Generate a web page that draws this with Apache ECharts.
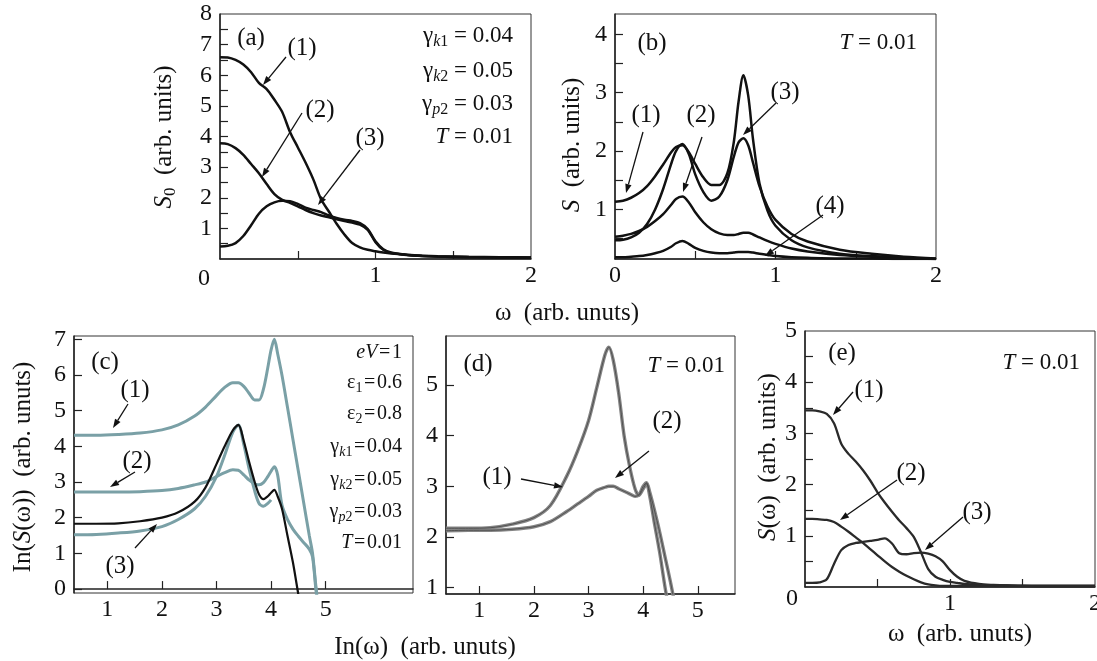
<!DOCTYPE html>
<html>
<head>
<meta charset="utf-8">
<title>S(ω) panels</title>
<script src="https://cdn.jsdelivr.net/npm/echarts@6/dist/echarts.min.js"></script>
<style>
html, body { margin: 0; padding: 0; background: #fff; }
#chart { width: 1097px; height: 661px; }
</style>
</head>
<body>
<div id="chart"></div>
<script>
// ---- (a) S0(ω) ----
var wA = [0, 0.05, 0.1, 0.15, 0.2, 0.25, 0.3, 0.35, 0.4, 0.45, 0.5, 0.55, 0.6, 0.65, 0.7, 0.75, 0.8, 0.85, 0.9, 0.95, 1.0, 1.05, 1.1, 1.2, 1.3, 1.4, 1.6, 1.8, 2.0]
var a1 = [6.59, 6.58, 6.5, 6.35, 6.1, 5.75, 5.55, 5.2, 4.8, 4.15, 3.65, 3.15, 2.6, 1.95, 1.55, 1.15, 0.8, 0.52, 0.38, 0.3, 0.25, 0.21, 0.18, 0.14, 0.11, 0.09, 0.07, 0.06, 0.05]
var a2 = [3.78, 3.75, 3.62, 3.4, 3.1, 2.8, 2.45, 2.12, 1.93, 1.83, 1.72, 1.6, 1.5, 1.42, 1.36, 1.3, 1.24, 1.19, 1.12, 0.95, 0.55, 0.3, 0.2, 0.13, 0.1, 0.08, 0.06, 0.05, 0.04]
var a3 = [0.41, 0.43, 0.52, 0.75, 1.1, 1.48, 1.72, 1.85, 1.9, 1.89, 1.8, 1.68, 1.6, 1.53, 1.42, 1.34, 1.28, 1.24, 1.17, 0.98, 0.58, 0.32, 0.21, 0.14, 0.1, 0.08, 0.06, 0.05, 0.04]

// ---- (b) S(ω) ----
var wB = [0, 0.05, 0.1, 0.15, 0.2, 0.25, 0.3, 0.35, 0.38, 0.42, 0.46, 0.5, 0.55, 0.6, 0.65, 0.7, 0.74, 0.77, 0.8, 0.83, 0.86, 0.9, 0.95, 1.0, 1.1, 1.2, 1.4, 1.6, 1.8, 2.0]
var b1 = [1.13, 1.15, 1.2, 1.28, 1.4, 1.57, 1.77, 1.98, 2.07, 2.1, 1.98, 1.78, 1.55, 1.42, 1.42, 1.62, 2.15, 2.85, 3.3, 2.95, 2.2, 1.45, 0.98, 0.72, 0.47, 0.35, 0.24, 0.2, 0.17, 0.15]
var b2 = [0.53, 0.55, 0.58, 0.63, 0.7, 0.8, 0.92, 1.08, 1.18, 1.22, 1.12, 0.95, 0.78, 0.66, 0.59, 0.56, 0.56, 0.58, 0.6, 0.6, 0.57, 0.52, 0.46, 0.41, 0.33, 0.28, 0.22, 0.19, 0.17, 0.15]
var b3 = [0.47, 0.48, 0.52, 0.6, 0.75, 1.0, 1.35, 1.78, 2.0, 2.12, 1.95, 1.6, 1.3, 1.15, 1.22, 1.5, 1.9, 2.15, 2.22, 2.1, 1.8, 1.4, 1.05, 0.82, 0.58, 0.45, 0.31, 0.24, 0.19, 0.16]
var b4 = [0.18, 0.18, 0.19, 0.2, 0.22, 0.25, 0.29, 0.36, 0.42, 0.46, 0.41, 0.34, 0.29, 0.26, 0.25, 0.25, 0.26, 0.27, 0.27, 0.27, 0.26, 0.24, 0.22, 0.2, 0.18, 0.17, 0.16, 0.16, 0.15, 0.15]

// ---- (c) ln S(ω) vs ln ω ----
var wC = [0.39, 0.8, 1.2, 1.6, 2.0, 2.3, 2.6, 2.8, 3.0, 3.15, 3.3, 3.4, 3.5, 3.6, 3.7, 3.78, 3.86, 3.94, 4.0, 4.06, 4.12, 4.2, 4.3, 4.4, 4.5, 4.6, 4.7, 4.76, 4.82, 4.88]
var c1 = [4.31, 4.31, 4.33, 4.37, 4.46, 4.6, 4.85, 5.1, 5.42, 5.65, 5.78, 5.78, 5.68, 5.48, 5.3, 5.3, 5.6, 6.2, 6.7, 7.0, 6.6, 5.99, 5.1, 4.2, 3.3, 2.4, 1.5, 1.0, 0.1, -0.7]
var c2 = [2.72, 2.72, 2.72, 2.73, 2.76, 2.82, 2.92, 3.0, 3.15, 3.26, 3.34, 3.33, 3.2, 3.05, 2.95, 2.92, 2.98, 3.15, 3.3, 3.43, 3.2, 2.35, 1.95, 1.68, 1.48, 1.3, 1.12, 0.9, 0.0, -0.8]
var c3 = [1.83, 1.83, 1.84, 1.9, 2.0, 2.15, 2.45, 2.85, 3.5, 4.0, 4.45, 4.6, 4.15, 3.55, 3.0, 2.65, 2.52, 2.6, 2.7, 2.78, 2.6, 2.25, 1.5, 0.75, -0.15, -1.0, -1.8, -2.2, -2.6, -3.0]
var c3fit = [1.52, 1.53, 1.57, 1.63, 1.75, 1.95, 2.25, 2.6, 3.15, 3.75, 4.4, 4.6, 4.05, 3.35, 2.75, 2.4, 2.32, 2.4, 2.5]

// ---- (d) ----
var wD = [0.39, 0.8, 1.2, 1.6, 2.0, 2.3, 2.6, 2.8, 3.0, 3.15, 3.3, 3.37, 3.45, 3.55, 3.65, 3.75, 3.85, 3.92, 4.0, 4.06, 4.12, 4.2, 4.3, 4.4, 4.5, 4.6]
var d1 = [2.17, 2.17, 2.18, 2.25, 2.38, 2.62, 3.2, 3.7, 4.3, 4.95, 5.6, 5.75, 5.5, 4.85, 4.0, 3.4, 2.95, 2.82, 2.95, 3.05, 2.8, 2.3, 1.7, 1.0, 0.4, -0.2]
var d2 = [2.12, 2.13, 2.13, 2.15, 2.2, 2.3, 2.5, 2.65, 2.8, 2.92, 2.98, 3.0, 3.0, 2.95, 2.9, 2.85, 2.8, 2.83, 3.0, 3.07, 2.88, 2.55, 2.1, 1.6, 1.1, 0.55]

// ---- (e) ----
var wE = [0, 0.05, 0.1, 0.15, 0.2, 0.25, 0.3, 0.35, 0.4, 0.45, 0.5, 0.55, 0.6, 0.65, 0.7, 0.75, 0.8, 0.85, 0.9, 0.95, 1.0, 1.05, 1.1, 1.2, 1.3, 1.4, 1.6, 1.8, 2.0]
var e1 = [3.45, 3.45, 3.43, 3.38, 3.2, 2.8, 2.6, 2.45, 2.28, 2.08, 1.85, 1.65, 1.47, 1.3, 1.15, 0.98, 0.68, 0.35, 0.2, 0.14, 0.1, 0.08, 0.06, 0.04, 0.03, 0.03, 0.02, 0.02, 0.02]
var e2 = [1.33, 1.33, 1.32, 1.31, 1.27, 1.18, 1.08, 0.97, 0.86, 0.74, 0.62, 0.5, 0.39, 0.3, 0.22, 0.15, 0.09, 0.05, 0.03, 0.02, 0.02, 0.02, 0.02, 0.02, 0.02, 0.02, 0.02, 0.02, 0.02]
var e3 = [0.08, 0.08, 0.09, 0.15, 0.45, 0.72, 0.82, 0.86, 0.88, 0.9, 0.92, 0.95, 0.85, 0.66, 0.64, 0.66, 0.67, 0.65, 0.6, 0.5, 0.33, 0.2, 0.12, 0.06, 0.04, 0.03, 0.02, 0.02, 0.02]

// tick / label positions
var halfTo8 = [0.5, 1, 1.5, 2, 2.5, 3, 3.5, 4, 4.5, 5, 5.5, 6, 6.5, 7, 7.5]
var halfTo4 = [0.5, 1, 1.5, 2, 2.5, 3, 3.5, 4]
var halfTo5 = [0.5, 1, 1.5, 2, 2.5, 3, 3.5, 4, 4.5]
var halfW = [0.5, 1, 1.5]

var SERIF = 'Liberation Serif'
var INK = '#111'
var BLUE = '#7aa0a6'

function xAx (g, min, max, labels, ticks) {
  return {
    type: 'value', gridIndex: g, min: min, max: max,
    axisLine: {lineStyle: {color: '#222', width: 1.5}},
    axisTick: {inside: true, length: 8, customValues: ticks, lineStyle: {color: '#222', width: 1.2}},
    axisLabel: {customValues: labels, fontFamily: SERIF, fontSize: 24, color: INK, margin: 5},
    splitLine: {show: false}
  }
}
function yAx (g, min, max, labels, ticks) {
  return {
    type: 'value', gridIndex: g, min: min, max: max,
    axisLine: {lineStyle: {color: '#222', width: 1.5}},
    axisTick: {inside: true, length: 8, customValues: ticks, lineStyle: {color: '#222', width: 1.2}},
    axisLabel: {customValues: labels, fontFamily: SERIF, fontSize: 24, color: INK, margin: 8},
    splitLine: {show: false}
  }
}
function grid (l, t, w, h) {
  return {left: l, top: t, width: w, height: h, show: true, borderColor: '#333', borderWidth: 1, outerBoundsMode: 'none'}
}
function line (g, xs, ys, color, width, z) {
  return {
    type: 'line', xAxisIndex: g, yAxisIndex: g,
    data: ys.map(function (y, i) { return [xs[i], y] }),
    showSymbol: false, symbol: 'none', smooth: 0.3, silent: true, z: z || 2,
    lineStyle: {color: color, width: width}
  }
}

function tok (size, italic, lh, pad) {
  var t = {fontFamily: SERIF, fontSize: size, lineHeight: lh, fill: INK}
  if (italic) t.fontStyle = 'italic'
  if (pad) t.padding = [pad, 0, 0, 0]
  return t
}
var rich = {
  // parameter blocks, 23px
  n: tok(23, false, 27), i: tok(23, true, 27), s: tok(16, false, 16, 11), si: tok(16, true, 16, 11),
  // tighter block in (c), 20px
  m: tok(20, false, 24), mi: tok(20, true, 24), ms: tok(14, false, 14, 10), msi: tok(14, true, 14, 10),
  // labels and titles, 25px
  N: tok(25, false, 30), I: tok(25, true, 30), S: tok(17, false, 17, 13)
}
function txt (x, y, text, align, rot) {
  return {
    type: 'text', x: x, y: y, z: 100, rotation: rot || 0,
    style: {text: text, rich: rich, align: align || 'center', verticalAlign: 'middle', fontFamily: SERIF, fontSize: 25, fill: INK}
  }
}
function arrow (x1, y1, x2, y2) {
  var a = Math.atan2(y2 - y1, x2 - x1), L = 9, W = 3.2
  var bx = x2 - L * Math.cos(a), by = y2 - L * Math.sin(a)
  return [
    {type: 'line', z: 100, shape: {x1: x1, y1: y1, x2: bx, y2: by}, style: {stroke: INK, lineWidth: 1.3}},
    {type: 'polygon', z: 100, shape: {points: [[x2, y2], [bx + W * Math.sin(a), by - W * Math.cos(a)], [bx - W * Math.sin(a), by + W * Math.cos(a)]]}, style: {fill: INK}}
  ]
}

var graphics = [
  // axis titles
  txt(164, 137, '{I|S}{S|0}{N|  (arb. units)}', 'center', Math.PI / 2),
  txt(572, 145, '{I|S}{N|  (arb. units)}', 'center', Math.PI / 2),
  txt(23, 467, '{N|In(}{I|S}{N|(ω))  (arb. unuts)}', 'center', Math.PI / 2),
  txt(768, 457, '{I|S}{N|(ω)  (arb. units)}', 'center', Math.PI / 2),
  txt(567, 313, '{N|ω  (arb. unuts)}'),
  txt(425, 647, '{N|In(ω)  (arb. unuts)}'),
  txt(960, 634, '{N|ω  (arb. unuts)}'),
  // lone zeros at the corners
  {type: 'text', x: 204, y: 279, z: 100, style: {text: '0', fontFamily: SERIF, fontSize: 24, fill: INK, align: 'center', verticalAlign: 'middle'}},
  {type: 'text', x: 792, y: 599, z: 100, style: {text: '0', fontFamily: SERIF, fontSize: 24, fill: INK, align: 'center', verticalAlign: 'middle'}},
  // (a)
  txt(251, 38, '{N|(a)}'),
  txt(302, 48, '{N|(1)}'), txt(320, 110, '{N|(2)}'), txt(370, 138, '{N|(3)}'),
  txt(513, 36, '{n|γ}{si|k}{s|1}{n| = 0.04}', 'right'),
  txt(513, 71, '{n|γ}{si|k}{s|2}{n| = 0.05}', 'right'),
  txt(513, 104, '{n|γ}{si|p}{s|2}{n| = 0.03}', 'right'),
  txt(513, 137, '{i|T}{n| = 0.01}', 'right'),
  // (b)
  txt(652, 43, '{N|(b)}'),
  txt(917, 43, '{i|T}{n| = 0.01}', 'right'),
  txt(646, 115, '{N|(1)}'), txt(701, 115, '{N|(2)}'), txt(785, 92, '{N|(3)}'), txt(830, 206, '{N|(4)}'),
  // (c)
  txt(105, 362, '{N|(c)}'),
  txt(135, 390, '{N|(1)}'), txt(137, 461, '{N|(2)}'), txt(120, 566, '{N|(3)}'),
  txt(402, 353, '{mi|eV}{m|\u200a=\u200a1}', 'right'),
  txt(402, 383, '{m|ε}{ms|1}{m|\u200a=\u200a0.6}', 'right'),
  txt(402, 414, '{m|ε}{ms|2}{m|\u200a=\u200a0.8}', 'right'),
  txt(402, 447, '{m|γ}{msi|k}{ms|1}{m|\u200a=\u200a0.04}', 'right'),
  txt(402, 480, '{m|γ}{msi|k}{ms|2}{m|\u200a=\u200a0.05}', 'right'),
  txt(402, 512, '{m|γ}{msi|p}{ms|2}{m|\u200a=\u200a0.03}', 'right'),
  txt(402, 543, '{mi|T}{m|\u200a=\u200a0.01}', 'right'),
  // (d)
  txt(478, 364, '{N|(d)}'),
  txt(725, 366, '{i|T}{n| = 0.01}', 'right'),
  txt(497, 477, '{N|(1)}'), txt(667, 421, '{N|(2)}'),
  // (e)
  txt(842, 353, '{N|(e)}'),
  txt(1080, 363, '{i|T}{n| = 0.01}', 'right'),
  txt(869, 390, '{N|(1)}'), txt(911, 473, '{N|(2)}'), txt(977, 512, '{N|(3)}')
].concat(
  arrow(286, 57, 263, 85), arrow(302, 113, 262, 177), arrow(360, 150, 318, 205),
  arrow(643, 132, 626, 193), arrow(702, 137, 683, 192), arrow(776, 103, 743, 135), arrow(823, 215, 765, 256),
  arrow(128, 404, 113, 428), arrow(135, 472, 110, 487), arrow(135, 548, 157, 524),
  arrow(521, 479, 563, 487), arrow(649, 451, 615, 478),
  arrow(853, 392, 833, 415), arrow(897, 480, 840, 520), arrow(963, 517, 925, 550)
)

var option = {
  animation: false,
  backgroundColor: '#fff',
  grid: [
    grid(220, 14, 311, 245),
    grid(615, 14, 321, 245),
    grid(74, 336, 339, 257),
    grid(446, 336, 289, 258),
    grid(805, 331, 290, 256)
  ],
  xAxis: [
    xAx(0, 0, 2, [1, 2], halfW),
    xAx(1, 0, 2, [0, 1, 2], halfW),
    xAx(2, 0.39, 6.6, [1, 2, 3, 4, 5], [1, 2, 3, 4, 5]),
    xAx(3, 0.39, 5.68, [1, 2, 3, 4, 5], [1, 2, 3, 4, 5]),
    xAx(4, 0, 2, [1, 2], halfW)
  ],
  yAxis: [
    yAx(0, 0, 8, [1, 2, 3, 4, 5, 6, 7, 8], halfTo8),
    yAx(1, 0.15, 4.35, [1, 2, 3, 4], halfTo4),
    yAx(2, -0.11, 7.09, [0, 1, 2, 3, 4, 5, 6, 7], [0, 1, 2, 3, 4, 5, 6, 7]),
    yAx(3, 0.87, 5.97, [1, 2, 3, 4, 5], [1, 2, 3, 4, 5]),
    yAx(4, 0, 5, [1, 2, 3, 4, 5], halfTo5)
  ],
  series: [
    line(0, wA, a1, INK, 2.5), line(0, wA, a2, INK, 2.5), line(0, wA, a3, INK, 2.5),
    line(1, wB, b1, INK, 2.5), line(1, wB, b2, INK, 2.5), line(1, wB, b3, INK, 2.5), line(1, wB, b4, INK, 2.5),
    line(2, wC, c1, BLUE, 3), line(2, wC, c2, BLUE, 3),
    line(2, wC, c3fit, BLUE, 3), line(2, wC, c3, INK, 2.2, 3),
    line(3, wD, d1, '#858585', 3.4), line(3, wD, d2, '#858585', 3.4),
    line(3, wD, d1, '#444', 0.8, 3), line(3, wD, d2, '#444', 0.8, 3),
    line(4, wE, e1, '#2a2a2a', 2.3), line(4, wE, e2, '#2a2a2a', 2.3), line(4, wE, e3, '#2a2a2a', 2.3)
  ],
  graphic: graphics
}

var chart = echarts.init(document.getElementById('chart'))
chart.setOption(option)
</script>
</body>
</html>
